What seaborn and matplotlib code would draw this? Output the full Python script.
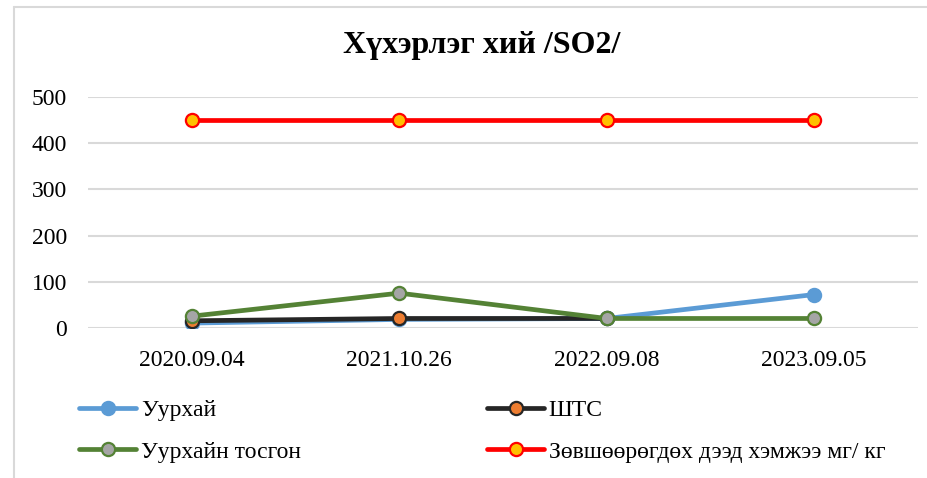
import numpy as np
import pandas as pd
import matplotlib
matplotlib.use("Agg")
import matplotlib.pyplot as plt
from matplotlib.lines import Line2D
import seaborn as sns

# Measurement dates and SO2 values per sampling point
dates = ["2020.09.04", "2021.10.26", "2022.09.08", "2023.09.05"]
uurhai = [10, 18, 20, 72]
shts = [15, 20, 20, np.nan]
uurhain_tosgon = [25, 75, 20, 20]
limit = [450, 450, 450, 450]

names = ["Уурхай", "ШТС", "Уурхайн тосгон", "Зөвшөөрөгдөх дээд хэмжээ мг/ кг"]
series = [uurhai, shts, uurhain_tosgon, limit]

title = "Хүхэрлэг хий /SO2/"
yticks = [0, 100, 200, 300, 400, 500]

sns.set_theme(style="white")
plt.rcParams["font.family"] = ["Liberation Serif", "DejaVu Serif"]
plt.rcParams["text.color"] = "black"

# line colour, marker face, marker edge
styles = [
    ("#5B9BD5", "#5B9BD5", "#5B9BD5"),
    ("#262626", "#ED7D31", "#262626"),
    ("#548235", "#A5A5A5", "#548235"),
    ("#FF0000", "#FFC000", "#FF0000"),
]

fig = plt.figure(figsize=(9.28, 4.78), dpi=100)
ax = fig.add_axes([88 / 928, 150.3 / 478, 830 / 928, 230.4 / 478])

handles = []
for name, vals, (lc, mf, me) in zip(names, series, styles):
    df = pd.DataFrame({"x": np.arange(len(dates)), "y": vals}).dropna()
    sns.lineplot(data=df, x="x", y="y", ax=ax, color=lc, linewidth=3.4,
                 marker="o", markersize=9.5, markerfacecolor=mf,
                 markeredgecolor=me, markeredgewidth=1.6, sort=False,
                 legend=False)
    handles.append(Line2D([], [], color=lc, linewidth=3.4, marker="o",
                          markersize=9.5, markerfacecolor=mf,
                          markeredgecolor=me, markeredgewidth=1.6,
                          solid_capstyle="round"))

ax.set_xlim(-0.5, len(dates) - 0.5)
ax.set_ylim(0, 500)
ax.set_xticks(np.arange(len(dates)))
ax.set_xticklabels(dates)
ax.set_yticks(yticks)
ax.set_xlabel("")
ax.set_ylabel("")
ax.tick_params(axis="both", length=0, labelsize=17, colors="black")
ax.tick_params(axis="y", pad=15)
ax.tick_params(axis="x", pad=16)
ax.yaxis.grid(True, color="#D9D9D9", linewidth=1.5)
ax.xaxis.grid(False)
ax.set_axisbelow(True)
for s in ax.spines.values():
    s.set_visible(False)

fig.text(482 / 928, 1 - 46 / 478, title, ha="center", va="center",
         fontsize=23, fontweight="bold", color="black")

# legend laid out row-wise: two entries per row
order = [0, 2, 1, 3]
fig.legend([handles[i] for i in order], [names[i] for i in order],
           ncol=2, loc="upper left", bbox_to_anchor=(70 / 928, 1 - 390 / 478),
           frameon=False, fontsize=17, handlelength=2.4, handletextpad=0.2,
           columnspacing=7.9, labelspacing=0.85, borderaxespad=0,
           labelcolor="black")

# chart area border (left and top)
fig.add_artist(Line2D([14 / 928, 14 / 928], [0, 1 - 7 / 478],
                      transform=fig.transFigure, color="#D9D9D9", linewidth=1.5))
fig.add_artist(Line2D([14 / 928, 1], [1 - 7 / 478, 1 - 7 / 478],
                      transform=fig.transFigure, color="#D9D9D9", linewidth=1.5))

fig.savefig("out.png", dpi=100)
